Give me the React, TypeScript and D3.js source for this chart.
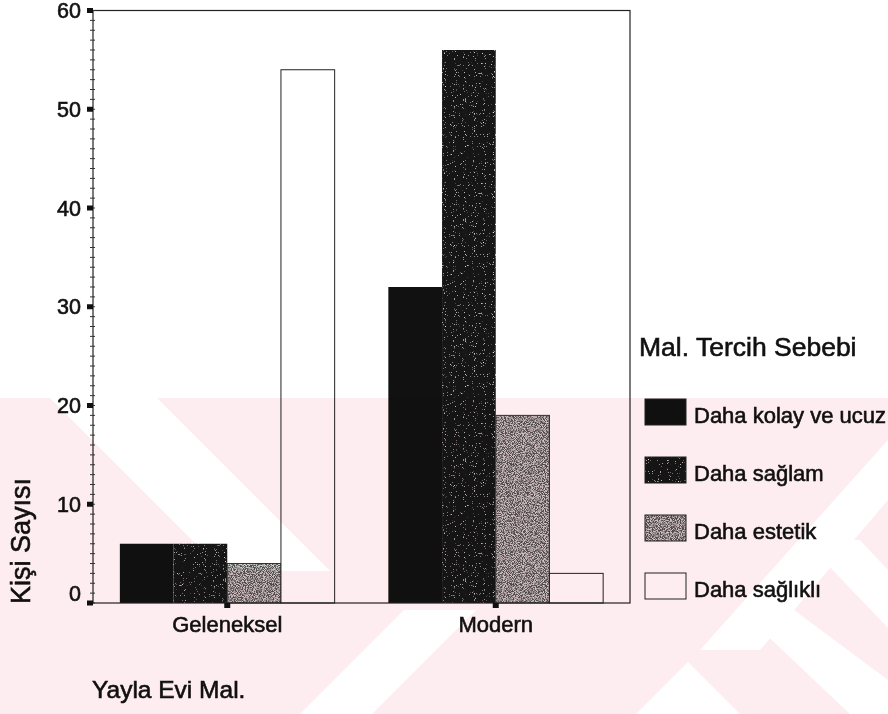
import { useEffect, useRef } from 'react';
import * as d3 from 'd3';

const categories = ['Geleneksel', 'Modern'];
const seriesNames = ['Daha kolay ve ucuz', 'Daha sağlam', 'Daha estetik', 'Daha sağlıklı'];
const kolayUcuz = [6, 32];
const saglam = [6, 56];
const estetik = [4, 19];
const saglikli = [54, 3];
const yTicks = [0, 10, 20, 30, 40, 50, 60];

const seriesValues = [kolayUcuz, saglam, estetik, saglikli];
const fills = ['#111111', 'url(#speckDark)', 'url(#speckLight)', '#ffffff'];
const strokes = ['none', 'none', '#333', '#222'];

export default function App() {
  const svgRef = useRef<SVGSVGElement | null>(null);

  useEffect(() => {
    if (!svgRef.current) return;
    const svg = d3.select(svgRef.current);
    svg.selectAll('*').remove();

    const W = 888;
    const H = 714;
    const left = 93, right = 630, top = 10.5, bottom = 603;
    const font = 'Arial, "Liberation Sans", sans-serif';

    svg.attr('width', W).attr('height', H);
    svg.append('rect').attr('width', W).attr('height', H).attr('fill', '#fff');

    // speckled fills, like the scanned print
    const defs = svg.append('defs');
    const speck = (id: string, base: string, dot: string, k: number, b: number, seed: number) => {
      const f = defs.append('filter').attr('id', id + 'F')
        .attr('x', 0).attr('y', 0).attr('width', 1).attr('height', 1);
      f.append('feTurbulence').attr('type', 'fractalNoise').attr('baseFrequency', 1.1)
        .attr('numOctaves', 1).attr('seed', seed).attr('result', 'n');
      f.append('feColorMatrix').attr('in', 'n').attr('type', 'matrix')
        .attr('values', `0 0 0 0 ${dot} 0 0 0 0 ${dot} 0 0 0 0 ${dot} ${k} 0 0 0 ${b}`)
        .attr('result', 'dots');
      const m = f.append('feMerge');
      m.append('feMergeNode').attr('in', 'SourceGraphic');
      m.append('feMergeNode').attr('in', 'dots');
      const p = defs.append('pattern').attr('id', id)
        .attr('patternUnits', 'userSpaceOnUse').attr('width', 120).attr('height', 120);
      p.append('rect').attr('width', 120).attr('height', 120).attr('fill', base).attr('filter', `url(#${id}F)`);
    };
    speck('speckDark', '#161414', '0.8', 7, -4.6, 4);
    speck('speckLight', '#d6d2d2', '0.08', 4.5, -1.6, 7);

    const x0 = d3.scaleBand().domain(categories).range([left, right]).paddingInner(0.2).paddingOuter(0.1);
    const x1 = d3.scaleBand().domain(seriesNames).range([0, x0.bandwidth()]);
    const y = d3.scaleLinear().domain([0, 60]).range([bottom, top]);

    // bars
    seriesNames.forEach((name, si) => {
      svg.append('g')
        .selectAll('rect')
        .data(categories)
        .enter()
        .append('rect')
        .attr('x', c => (x0(c) as number) + (x1(name) as number))
        .attr('y', (c, i) => y(seriesValues[si][i]))
        .attr('width', x1.bandwidth())
        .attr('height', (c, i) => y(0) - y(seriesValues[si][i]))
        .attr('fill', fills[si])
        .attr('stroke', strokes[si])
        .attr('stroke-width', 1);
    });

    // frame
    svg.append('rect')
      .attr('x', left).attr('y', top)
      .attr('width', right - left).attr('height', bottom - top)
      .attr('fill', 'none').attr('stroke', '#222').attr('stroke-width', 1.2);

    // y axis: minor ticks every 1, major squares every 10
    const minor = d3.range(0, 61, 1);
    svg.append('g').selectAll('line').data(minor).enter().append('line')
      .attr('x1', left - 3).attr('x2', left + 2)
      .attr('y1', d => y(d)).attr('y2', d => y(d))
      .attr('stroke', '#333').attr('stroke-width', 1);
    svg.append('g').selectAll('rect').data(yTicks).enter().append('rect')
      .attr('x', left - 6).attr('y', d => y(d) - 2.5)
      .attr('width', 6).attr('height', 5).attr('fill', '#111');

    const txt = (sel: any, size: number) => sel
      .attr('font-family', font).attr('font-size', size)
      .attr('fill', '#111').attr('stroke', '#111').attr('stroke-width', 0.6);

    // the 0 label sits a little above its tick, as in the print
    txt(svg.append('g').selectAll('text').data(yTicks).enter().append('text')
      .attr('x', left - 12).attr('y', d => y(d) - (d === 0 ? 10 : 0))
      .attr('dy', '0.36em')
      .attr('text-anchor', 'end'), 21.5)
      .text(d => d);

    // x axis ticks
    svg.append('g').selectAll('rect').data(categories).enter().append('rect')
      .attr('x', c => (x0(c) as number) + x0.bandwidth() / 2 - 3)
      .attr('y', bottom).attr('width', 6).attr('height', 5).attr('fill', '#111');
    txt(svg.append('g').selectAll('text').data(categories).enter().append('text')
      .attr('x', c => (x0(c) as number) + x0.bandwidth() / 2)
      .attr('y', 632)
      .attr('text-anchor', 'middle'), 22)
      .text(c => c);

    // axis titles
    txt(svg.append('text')
      .attr('transform', 'translate(30,541) rotate(-90)')
      .attr('text-anchor', 'middle'), 27)
      .text('Kişi Sayısı');
    txt(svg.append('text').attr('x', 92).attr('y', 698), 24.5)
      .text('Yayla Evi Mal.');

    // legend
    txt(svg.append('text').attr('x', 639).attr('y', 356), 26.5)
      .text('Mal. Tercih Sebebi');
    const lg = svg.append('g').selectAll('g').data(seriesNames).enter().append('g')
      .attr('transform', (d, i) => `translate(645,${399 + i * 58})`);
    lg.append('rect')
      .attr('width', 41).attr('height', 26)
      .attr('fill', (d, i) => fills[i])
      .attr('stroke', '#222').attr('stroke-width', 1);
    txt(lg.append('text').attr('x', 49).attr('y', 24), 22)
      .text(d => d);

    // faint watermark in the lower part: pale pink with white diagonal gaps
    const wm = svg.append('g').style('mix-blend-mode', 'multiply').style('pointer-events', 'none');
    wm.append('rect').attr('x', 0).attr('y', 398).attr('width', W).attr('height', H - 398).attr('fill', '#fdedf0');
    const gaps = [
      [[50, 398], [157, 398], [330, 571], [223, 571]],
      [[300, 714], [372, 714], [476, 610], [404, 610]],
      [[688, 662], [740, 714], [636, 714]],
      [[737, 607], [790, 607], [888, 680], [888, 714], [850, 714]],
      [[700, 650], [760, 650], [888, 500], [888, 440]],
      [[804, 540], [860, 540], [888, 570], [888, 628]],
    ];
    wm.selectAll('polygon').data(gaps).enter().append('polygon')
      .attr('points', d => d.map(p => p.join(',')).join(' '))
      .attr('fill', '#fff');
  }, []);

  return (
    <svg ref={svgRef} style={{ position: 'absolute', left: 0, top: 0, display: 'block' }} />
  );
}
